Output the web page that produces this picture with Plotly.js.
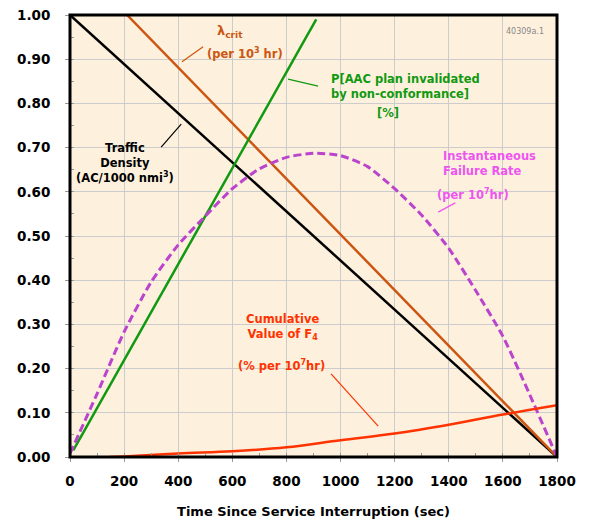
<!DOCTYPE html>
<html><head><meta charset="utf-8">
<script src="https://cdn.plot.ly/plotly-3.0.1.min.js"></script>
<style>body{margin:0;background:#fff}#c{width:589px;height:523px}</style>
</head><body><div id="c"></div>
<script>
// Data
const trafficX = [0, 1800];
const trafficY = [1.0, 0.0];
const lambdaX = [211, 1800];
const lambdaY = [1.0, 0.0];
const aacX = [12, 910];
const aacY = [0.015, 0.99];
const cumX = [148, 200, 400, 600, 800, 1000, 1200, 1400, 1600, 1800];
const cumY = [0.0, 0.001, 0.008, 0.013, 0.022, 0.038, 0.053, 0.073, 0.096, 0.117];
const ifrX = [0, 100, 200, 300, 400, 500, 600, 700, 800, 900, 1000, 1100, 1200, 1300, 1400, 1500, 1600, 1700, 1800];
const ifrY = [0.008, 0.143, 0.283, 0.396, 0.48, 0.545, 0.607, 0.652, 0.678, 0.687, 0.682, 0.657, 0.607, 0.547, 0.472, 0.376, 0.273, 0.14, 0.0];
const xTicks = [0, 200, 400, 600, 800, 1000, 1200, 1400, 1600, 1800];
const yTicks = [0, 0.1, 0.2, 0.3, 0.4, 0.5, 0.6, 0.7, 0.8, 0.9, 1.0];

const F = "DejaVu Sans";
const traces = [
  {x: trafficX, y: trafficY, mode: 'lines', line: {color: '#000000', width: 2.5}},
  {x: lambdaX, y: lambdaY, mode: 'lines', line: {color: '#CC5511', width: 2.5}},
  {x: aacX, y: aacY, mode: 'lines', line: {color: '#119911', width: 2.5}},
  {x: ifrX, y: ifrY, mode: 'lines', line: {color: '#BB44CC', width: 3, dash: '8px,4px', shape: 'spline', smoothing: 0.6}},
  {x: cumX, y: cumY, mode: 'lines', line: {color: '#FF3300', width: 2.5, shape: 'spline'}}
];

function ptr(x0, y0, x1, y1, c) {
  return {type: 'line', xref: 'x', yref: 'y', x0, y0, x1, y1, line: {color: c, width: 1.2}};
}
function ann(x, y, text, c, extra) {
  return Object.assign({x, y, xref: 'x', yref: 'y', text, showarrow: false,
    font: {family: F, size: 11.5, color: c, weight: 'bold'}}, extra || {});
}

const layout = {
  width: 589, height: 523,
  margin: {l: 70, r: 32, t: 15, b: 66},
  paper_bgcolor: '#ffffff',
  plot_bgcolor: '#FDF1DE',
  showlegend: false,
  xaxis: {
    range: [0, 1800], tickvals: xTicks, ticktext: xTicks.map(String),
    showgrid: true, gridcolor: '#CCCCCC', gridwidth: 1, zeroline: false,
    ticks: 'outside', ticklen: 4, tickcolor: '#999999',
    minor: {dtick: 100, ticks: 'inside', ticklen: 4, tickcolor: '#999999', showgrid: false},
    tickfont: {family: F, size: 13.5, color: '#000', weight: 'bold'},
    ticklabelstandoff: 8,
    title: {text: 'Time Since Service Interruption (sec)', font: {family: F, size: 13, color: '#000', weight: 'bold'}, standoff: 18},
    showline: false, fixedrange: true
  },
  yaxis: {
    range: [0, 1], tickvals: yTicks, ticktext: yTicks.map(v => v.toFixed(2)),
    showgrid: true, gridcolor: '#CCCCCC', gridwidth: 1, zeroline: false,
    ticks: 'outside', ticklen: 4, tickcolor: '#999999',
    minor: {dtick: 0.05, ticks: 'inside', ticklen: 4, tickcolor: '#999999', showgrid: false},
    tickfont: {family: F, size: 13.5, color: '#000', weight: 'bold'},
    ticklabelstandoff: 12,
    showline: false, fixedrange: true
  },
  shapes: [
    {type: 'rect', xref: 'paper', yref: 'paper', x0: 0, y0: 0, x1: 1, y1: 1, line: {color: '#000', width: 3}},
    ptr(414, 0.894, 492, 0.928, '#CC5511'),
    ptr(337, 0.701, 411, 0.753, '#000000'),
    ptr(806, 0.855, 917, 0.839, '#119911'),
    ptr(1361, 0.554, 1424, 0.575, '#EE55EE'),
    ptr(965, 0.188, 1139, 0.070, '#FF3300')
  ],
  annotations: [
    ann(592, 0.962, 'λ<sub>crit</sub>', '#CC5511', {font: {family: F, size: 13, color: '#CC5511', weight: 'bold'}}),
    ann(647, 0.914, '(per 10<sup>3</sup> hr)', '#CC5511'),
    ann(203, 0.665, 'Traffic<br>Density<br>(AC/1000 nmi<sup>3</sup>)', '#000000'),
    ann(958, 0.838, 'P[AAC plan invalidated<br>by non-conformance]', '#119911', {xanchor: 'left', align: 'left'}),
    ann(1176, 0.779, '[%]', '#119911'),
    ann(1370, 0.665, 'Instantaneous<br>Failure Rate', '#EE55EE', {xanchor: 'left', align: 'left'}),
    ann(1490, 0.595, '(per 10<sup>7</sup>hr)', '#EE55EE'),
    ann(784, 0.293, 'Cumulative<br>Value of F<sub>4</sub>', '#FF3300'),
    ann(780, 0.206, '(% per 10<sup>7</sup>hr)', '#FF3300'),
    {x: 0.978, y: 0.978, xref: 'paper', yref: 'paper', text: '40309a.1', showarrow: false,
     xanchor: 'right', yanchor: 'top', font: {family: F, size: 8, color: '#888888'}}
  ]
};
Plotly.newPlot('c', traces, layout, {staticPlot: true});
</script></body></html>
